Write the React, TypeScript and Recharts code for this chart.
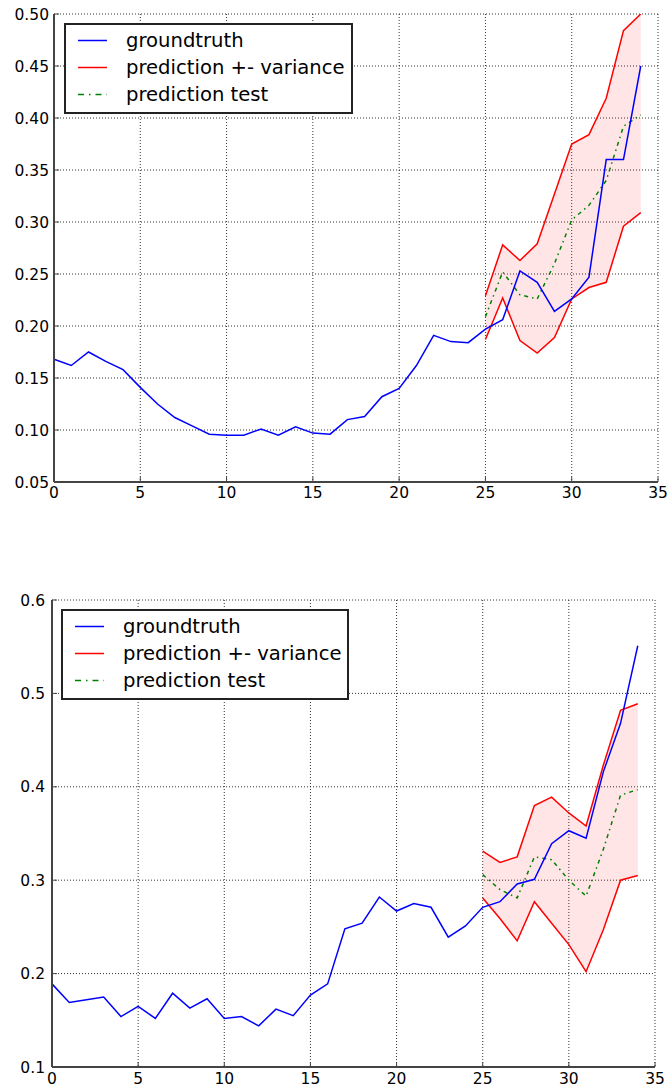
import React from "react";
import { ComposedChart, Line, Area, XAxis, YAxis, CartesianGrid, Legend } from "recharts";

const FONT = '"DejaVu Sans", sans-serif';

// time steps on the x axis
const STEPS = [
  0, 1, 2, 3, 4, 5, 6, 7, 8, 9, 10, 11, 12, 13, 14, 15, 16, 17, 18, 19, 20, 21, 22, 23, 24, 25, 26,
  27, 28, 29, 30, 31, 32, 33, 34,
];
const PRED_START = 25; // first step that has a prediction
const X_TICKS = [0, 5, 10, 15, 20, 25, 30, 35];

// upper panel
const TOP_TRUTH = [
  0.168, 0.162, 0.175, 0.166, 0.158, 0.141, 0.125, 0.112, 0.104, 0.096, 0.095, 0.095, 0.101, 0.095,
  0.103, 0.097, 0.096, 0.11, 0.113, 0.132, 0.14, 0.162, 0.191, 0.185, 0.184, 0.197, 0.206, 0.253,
  0.242, 0.214, 0.226, 0.247, 0.36, 0.36, 0.45,
];
const TOP_UPPER = [0.229, 0.278, 0.263, 0.279, 0.327, 0.375, 0.384, 0.419, 0.484, 0.5];
const TOP_LOWER = [0.187, 0.227, 0.186, 0.174, 0.189, 0.226, 0.237, 0.242, 0.296, 0.309];
const TOP_PRED = [0.209, 0.252, 0.23, 0.226, 0.26, 0.302, 0.316, 0.34, 0.392, 0.403];
const TOP_Y_TICKS = [0.05, 0.1, 0.15, 0.2, 0.25, 0.3, 0.35, 0.4, 0.45, 0.5];

// lower panel
const BOT_TRUTH = [
  0.189, 0.169, 0.172, 0.175, 0.154, 0.165, 0.152, 0.179, 0.163, 0.173, 0.152, 0.154, 0.144, 0.162,
  0.155, 0.177, 0.189, 0.248, 0.254, 0.282, 0.267, 0.275, 0.271, 0.239, 0.251, 0.271, 0.277, 0.296,
  0.301, 0.339, 0.353, 0.345, 0.416, 0.468, 0.551,
];
const BOT_UPPER = [0.331, 0.319, 0.325, 0.38, 0.389, 0.372, 0.358, 0.423, 0.482, 0.489];
const BOT_LOWER = [0.281, 0.259, 0.235, 0.277, 0.254, 0.231, 0.202, 0.247, 0.3, 0.305];
const BOT_PRED = [0.306, 0.29, 0.281, 0.325, 0.322, 0.3, 0.283, 0.333, 0.391, 0.397];
const BOT_Y_TICKS = [0.1, 0.2, 0.3, 0.4, 0.5, 0.6];

const LEGEND_ITEMS = [
  { label: "groundtruth", color: "#0000ff", dash: undefined },
  { label: "prediction +- variance", color: "#ff0000", dash: undefined },
  { label: "prediction test", color: "#008000", dash: "6 5 1.5 5" },
];

const FRAME = "#444";
const PRED_DASH = "4 4 1.5 4";

function buildRows(truth: number[], upper: number[], lower: number[], pred: number[]) {
  return STEPS.map((step, i) => {
    const j = i - PRED_START;
    const has = j >= 0;
    return {
      step,
      truth: truth[i],
      upper: has ? upper[j] : undefined,
      lower: has ? lower[j] : undefined,
      pred: has ? pred[j] : undefined,
      band: has ? [lower[j], upper[j]] : undefined,
    };
  });
}

function LegendBox({ width }: { width: number }) {
  return (
    <div
      style={{
        boxSizing: "border-box",
        width,
        height: 91,
        border: "2px solid #222",
        background: "#fff",
        paddingTop: 2,
        fontFamily: FONT,
        fontSize: 19.6,
        color: "#000",
      }}
    >
      {LEGEND_ITEMS.map((it) => (
        <div key={it.label} style={{ display: "flex", alignItems: "center", height: 27 }}>
          <svg width={60} height={27} style={{ flex: "none" }}>
            <line
              x1={12}
              x2={41}
              y1={13.5}
              y2={13.5}
              stroke={it.color}
              strokeWidth={1.5}
              strokeDasharray={it.dash}
            />
          </svg>
          <span style={{ whiteSpace: "nowrap" }}>{it.label}</span>
        </div>
      ))}
    </div>
  );
}

const noTick = () => <g />;

interface PanelProps {
  truth: number[];
  upper: number[];
  lower: number[];
  pred: number[];
  yTicks: number[];
  decimals: number;
  height: number;
  axisWidth: number;
  right: number;
  xAxisHeight: number;
  xTickMargin: number;
  yTickMargin: number;
  legendLeft: number;
  legendTop: number;
  legendWidth: number;
}

function Panel(p: PanelProps) {
  const rows = buildRows(p.truth, p.upper, p.lower, p.pred);
  const yDomain = [p.yTicks[0], p.yTicks[p.yTicks.length - 1]];
  const tickStyle = { fill: "#000", fontSize: 15.5, fontFamily: FONT };

  return (
    <ComposedChart
      width={669}
      height={p.height}
      data={rows}
      margin={{ top: 14, right: p.right, bottom: 0, left: 0 }}
    >
      <CartesianGrid stroke="#000" strokeDasharray="1 2" strokeWidth={0.8} />
      <XAxis
        dataKey="step"
        type="number"
        domain={[0, 35]}
        ticks={X_TICKS}
        height={p.xAxisHeight}
        tick={tickStyle}
        tickSize={-5}
        tickMargin={p.xTickMargin}
        stroke={FRAME}
        axisLine={{ stroke: FRAME, strokeWidth: 2 }}
        tickLine={{ stroke: FRAME }}
      />
      <XAxis
        xAxisId="top"
        orientation="top"
        dataKey="step"
        type="number"
        domain={[0, 35]}
        ticks={X_TICKS}
        height={0}
        tick={noTick}
        tickSize={-5}
        axisLine={{ stroke: FRAME, strokeWidth: 2 }}
        tickLine={{ stroke: FRAME }}
      />
      <YAxis
        type="number"
        domain={yDomain}
        ticks={p.yTicks}
        width={p.axisWidth}
        tick={tickStyle}
        tickFormatter={(v: number) => v.toFixed(p.decimals)}
        tickSize={-5}
        tickMargin={p.yTickMargin}
        allowDataOverflow
        axisLine={{ stroke: FRAME, strokeWidth: 2 }}
        tickLine={{ stroke: FRAME }}
      />
      <YAxis
        yAxisId="right"
        orientation="right"
        type="number"
        domain={yDomain}
        ticks={p.yTicks}
        width={0}
        tick={noTick}
        tickSize={-5}
        allowDataOverflow
        axisLine={{ stroke: FRAME, strokeWidth: 2 }}
        tickLine={{ stroke: FRAME }}
      />
      <Legend
        layout="horizontal"
        align="center"
        verticalAlign="middle"
        wrapperStyle={{ left: p.legendLeft, top: p.legendTop, width: p.legendWidth }}
        content={() => <LegendBox width={p.legendWidth} />}
      />

      {/* variance band */}
      <Area
        dataKey="band"
        stroke="none"
        fill="#ff0000"
        fillOpacity={0.1}
        isAnimationActive={false}
        legendType="none"
      />
      <Line dataKey="upper" stroke="#ff0000" strokeWidth={1.5} dot={false} isAnimationActive={false} />
      <Line dataKey="lower" stroke="#ff0000" strokeWidth={1.5} dot={false} isAnimationActive={false} />
      <Line
        dataKey="pred"
        stroke="#008000"
        strokeWidth={1.5}
        strokeDasharray={PRED_DASH}
        dot={false}
        isAnimationActive={false}
      />
      <Line dataKey="truth" stroke="#0000ff" strokeWidth={1.5} dot={false} isAnimationActive={false} />
    </ComposedChart>
  );
}

export default function App() {
  return (
    <div
      style={{
        position: "absolute",
        left: 0,
        top: 0,
        width: 669,
        height: 1091,
        background: "#fff",
        overflow: "hidden",
      }}
    >
      <div style={{ position: "absolute", left: 0, top: 0 }}>
        <Panel
          truth={TOP_TRUTH}
          upper={TOP_UPPER}
          lower={TOP_LOWER}
          pred={TOP_PRED}
          yTicks={TOP_Y_TICKS}
          decimals={2}
          height={510}
          axisWidth={54}
          right={11}
          xAxisHeight={28}
          xTickMargin={10}
          yTickMargin={10}
          legendLeft={64}
          legendTop={23}
          legendWidth={289}
        />
      </div>
      <div style={{ position: "absolute", left: 0, top: 586 }}>
        <Panel
          truth={BOT_TRUTH}
          upper={BOT_UPPER}
          lower={BOT_LOWER}
          pred={BOT_PRED}
          yTicks={BOT_Y_TICKS}
          decimals={1}
          height={505}
          axisWidth={52}
          right={14}
          xAxisHeight={24}
          xTickMargin={11}
          yTickMargin={12}
          legendLeft={61}
          legendTop={23}
          legendWidth={288}
        />
      </div>
    </div>
  );
}
